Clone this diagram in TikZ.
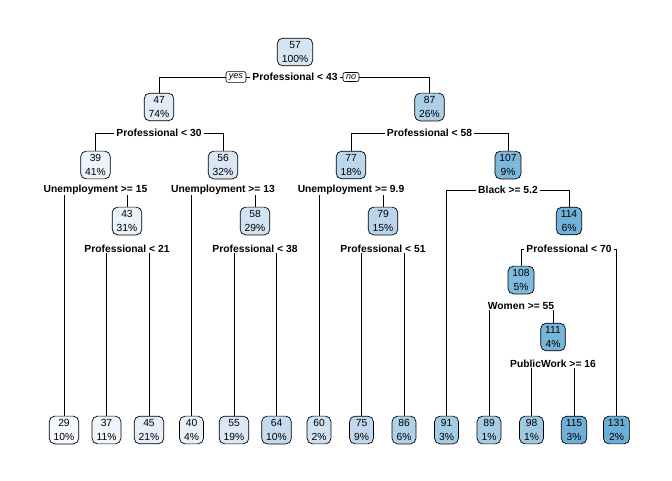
\documentclass[tikz,border=0pt]{standalone}
\usepackage{fontspec}
\setmainfont{Liberation Sans}
\usetikzlibrary{positioning,backgrounds}

% fill colours of the fitted values (Blues)
\definecolor{c29}{HTML}{F5F9FE}
\definecolor{c37}{HTML}{F0F6FC}
\definecolor{c39}{HTML}{EEF4FB}
\definecolor{c40}{HTML}{E8F1FA}
\definecolor{c43}{HTML}{EAF2FA}
\definecolor{c45}{HTML}{E6EFF9}
\definecolor{c47}{HTML}{E0ECF7}
\definecolor{c55}{HTML}{DCE8F5}
\definecolor{c56}{HTML}{DAE7F5}
\definecolor{c57}{HTML}{D6E5F4}
\definecolor{c58}{HTML}{D3E3F3}
\definecolor{c60}{HTML}{D0E1F2}
\definecolor{c64}{HTML}{C6DBEF}
\definecolor{c75}{HTML}{C1D8EE}
\definecolor{c77}{HTML}{BDD7EC}
\definecolor{c79}{HTML}{BAD5EB}
\definecolor{c86}{HTML}{B0D2E8}
\definecolor{c87}{HTML}{ACD0E6}
\definecolor{c89}{HTML}{A7CDE5}
\definecolor{c91}{HTML}{A4CCE4}
\definecolor{c98}{HTML}{9ECAE1}
\definecolor{c107}{HTML}{7DB8DC}
\definecolor{c108}{HTML}{80BADD}
\definecolor{c111}{HTML}{78B5DA}
\definecolor{c114}{HTML}{72B1D8}
\definecolor{c115}{HTML}{70B0D8}
\definecolor{c131}{HTML}{6BAED6}

\begin{document}
\begin{tikzpicture}[x=1pt,y=-1pt,
  tnode/.style={draw, line width=0.7pt, rounded corners=5.5pt, align=center,
    inner xsep=4.5pt, inner ysep=3.5pt,
    font=\fontsize{10.3}{13.5}\selectfont},
  splitlab/.style={fill=white, inner xsep=2pt, inner ysep=0.5pt,
    font=\bfseries\fontsize{10.3}{12}\selectfont},
  yn/.style={draw, fill=white, line width=0.6pt, rounded corners=2pt,
    inner xsep=3pt, inner ysep=2pt,
    font=\itshape\fontsize{9}{10}\selectfont},
  branch/.style={line width=0.7pt}]

\useasboundingbox (0,0) rectangle (672,480);

% root and its split
\node[tnode, fill=c57] (n57) at (295,52) {57\\100\%};
\node[splitlab] (s0) at (295,77) {Professional < 43};
\node[yn, left=4pt of s0] (yes) {yes};
\node[yn, right=3pt of s0] (no) {no};

% level 1
\node[tnode, fill=c47] (n47) at (159,107) {47\\74\%};
\node[tnode, fill=c87] (n87) at (429.5,107) {87\\26\%};
\node[splitlab] (s1a) at (159,133) {Professional < 30};
\node[splitlab] (s1b) at (429.5,133) {Professional < 58};

% level 2
\node[tnode, fill=c39] (n39) at (95.5,165) {39\\41\%};
\node[tnode, fill=c56] (n56) at (223,165) {56\\32\%};
\node[tnode, fill=c77] (n77) at (351,165) {77\\18\%};
\node[tnode, fill=c107] (n107) at (508,165) {107\\9\%};
\node[splitlab] (s2a) at (95.5,190) {Unemployment >= 15};
\node[splitlab] (s2b) at (223,190) {Unemployment >= 13};
\node[splitlab] (s2c) at (351,190) {Unemployment >= 9.9};
\node[splitlab] (s2d) at (508,190) {Black >= 5.2};

% level 3
\node[tnode, fill=c43] (n43) at (127,221) {43\\31\%};
\node[tnode, fill=c58] (n58) at (255,221) {58\\29\%};
\node[tnode, fill=c79] (n79) at (383,221) {79\\15\%};
\node[tnode, fill=c114] (n114) at (569,221) {114\\6\%};
\node[splitlab] (s3a) at (127,249) {Professional < 21};
\node[splitlab] (s3b) at (255,249) {Professional < 38};
\node[splitlab] (s3c) at (383,249) {Professional < 51};
\node[splitlab] (s3d) at (569,249) {Professional < 70};

% levels 4 and 5
\node[tnode, fill=c108] (n108) at (521,280) {108\\5\%};
\node[splitlab] (s4) at (521,306) {Women >= 55};
\node[tnode, fill=c111] (n111) at (553,337) {111\\4\%};
\node[splitlab] (s5) at (553,364) {PublicWork >= 16};

% leaves
\node[tnode, fill=c29] (f29) at (64,430) {29\\10\%};
\node[tnode, fill=c37] (f37) at (106.5,430) {37\\11\%};
\node[tnode, fill=c45] (f45) at (149,430) {45\\21\%};
\node[tnode, fill=c40] (f40) at (191.5,430) {40\\4\%};
\node[tnode, fill=c55] (f55) at (234,430) {55\\19\%};
\node[tnode, fill=c64] (f64) at (276.5,430) {64\\10\%};
\node[tnode, fill=c60] (f60) at (319,430) {60\\2\%};
\node[tnode, fill=c75] (f75) at (361.5,430) {75\\9\%};
\node[tnode, fill=c86] (f86) at (404,430) {86\\6\%};
\node[tnode, fill=c91] (f91) at (446.5,430) {91\\3\%};
\node[tnode, fill=c89] (f89) at (489,430) {89\\1\%};
\node[tnode, fill=c98] (f98) at (531.5,430) {98\\1\%};
\node[tnode, fill=c115] (f115) at (574,430) {115\\3\%};
\node[tnode, fill=c131] (f131) at (616.5,430) {131\\2\%};

% branches, drawn behind the white split labels
\begin{scope}[on background layer, branch]
  \draw (s0.center) -| (n47.north);
  \draw (s0.center) -| (n87.north);
  \draw (s1a.center) -| (n39.north);
  \draw (s1a.center) -| (n56.north);
  \draw (s1b.center) -| (n77.north);
  \draw (s1b.center) -| (n107.north);
  \draw (s2a.center) -| (f29.north);
  \draw (s2a.center) -| (n43.north);
  \draw (s2b.center) -| (f40.north);
  \draw (s2b.center) -| (n58.north);
  \draw (s2c.center) -| (f60.north);
  \draw (s2c.center) -| (n79.north);
  \draw (s2d.center) -| (f91.north);
  \draw (s2d.center) -| (n114.north);
  \draw (s3a.center) -| (f37.north);
  \draw (s3a.center) -| (f45.north);
  \draw (s3b.center) -| (f55.north);
  \draw (s3b.center) -| (f64.north);
  \draw (s3c.center) -| (f75.north);
  \draw (s3c.center) -| (f86.north);
  \draw (s3d.center) -| (n108.north);
  \draw (s3d.center) -| (f131.north);
  \draw (s4.center) -| (f89.north);
  \draw (s4.center) -| (n111.north);
  \draw (s5.center) -| (f98.north);
  \draw (s5.center) -| (f115.north);
\end{scope}
\end{tikzpicture}
\end{document}
